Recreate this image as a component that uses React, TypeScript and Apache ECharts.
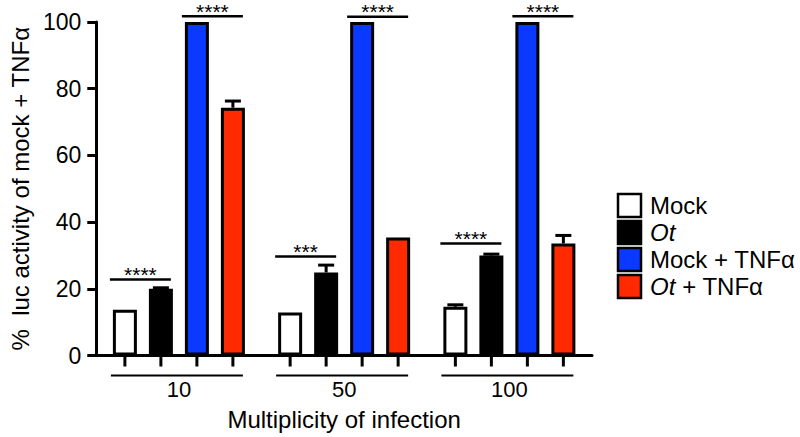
import React, { useEffect, useRef } from "react";
import * as echarts from "echarts";

const categories = ["10", "50", "100"];
const seriesNames = ["Mock", "Ot", "Mock + TNFα", "Ot + TNFα"];
const mockValues = [13.7, 12.9, 14.6];
const otValues = [20.0, 24.9, 30.0];
const mockTnfValues = [100, 100, 100];
const otTnfValues = [74.3, 35.4, 33.6];
const mockErr = [0, 0, 0.6];
const otErr = [0.3, 2.2, 0.4];
const mockTnfErr = [0, 0, 0];
const otTnfErr = [2.0, 0, 2.4];

const yTicks = [0, 20, 40, 60, 80, 100];

// significance brackets: group index, first bar of the pair, bracket height (y units), stars
const sigGroup = [0, 0, 1, 1, 2, 2];
const sigFirstBar = [0, 2, 0, 2, 0, 2];
const sigLevel = [22.8, 101.7, 29.7, 101.6, 33.6, 101.7];
const sigStars = ["****", "****", "***", "****", "****", "****"];

const FONT = "'Liberation Sans', Arial, Helvetica, sans-serif";
const BAR_STEP = 36; // distance between bar centers in a group (px)
const COLORS = ["#ffffff", "#000000", "#0A3AFF", "#FF2A00"];

export default function App() {
  const ref = useRef<HTMLDivElement>(null);
  useEffect(() => {
    if (!ref.current) return;
    const chart = echarts.init(ref.current, null, { renderer: "svg" });
    const values = [mockValues, otValues, mockTnfValues, otTnfValues];
    const errs = [mockErr, otErr, mockTnfErr, otTnfErr];

    const barSeries = seriesNames.map((name, s) => ({
      name,
      type: "bar",
      data: values[s],
      barWidth: 24,
      barGap: "50%",
      itemStyle: { color: COLORS[s], borderColor: "#000", borderWidth: 3 },
      z: 2,
    }));

    const errData: number[][] = [];
    values.forEach((arr, s) =>
      arr.forEach((v, c) => {
        if (errs[s][c] > 0) errData.push([c, v, errs[s][c], s]);
      })
    );

    const errSeries = {
      type: "custom",
      name: "err",
      silent: true,
      z: 3,
      encode: { x: 0, y: 1 },
      data: errData,
      renderItem: (params: any, api: any) => {
        const c = api.value(0);
        const v = api.value(1);
        const e = api.value(2);
        const b = api.value(3);
        const base = api.coord([c, v]);
        const top = api.coord([c, v + e]);
        const x = base[0] + (b - 1.5) * BAR_STEP;
        return {
          type: "group",
          children: [
            { type: "line", shape: { x1: x, y1: base[1], x2: x, y2: top[1] }, style: { stroke: "#000", lineWidth: 3 } },
            { type: "line", shape: { x1: x - 8, y1: top[1], x2: x + 8, y2: top[1] }, style: { stroke: "#000", lineWidth: 3 } },
          ],
        };
      },
    };

    const sigSeries = {
      type: "custom",
      name: "sig",
      silent: true,
      z: 3,
      encode: { x: 0, y: 1 },
      data: sigGroup.map((g, i) => [g, sigLevel[i], sigFirstBar[i]]),
      renderItem: (params: any, api: any) => {
        const i = params.dataIndex;
        const p = api.coord([api.value(0), api.value(1)]);
        const b = api.value(2);
        const x1 = p[0] + (b - 1.5) * BAR_STEP - 15;
        const x2 = p[0] + (b + 1 - 1.5) * BAR_STEP + 10;
        return {
          type: "group",
          children: [
            { type: "line", shape: { x1, y1: p[1], x2, y2: p[1] }, style: { stroke: "#000", lineWidth: 2.5 } },
            {
              type: "text",
              x: (x1 + x2) / 2,
              y: p[1] - 5,
              style: { text: sigStars[i], fill: "#000", font: `21px ${FONT}`, lineHeight: 12, align: "center", verticalAlign: "middle" },
            },
          ],
        };
      },
    };

    const axisDecorSeries = {
      type: "custom",
      name: "axisDecor",
      silent: true,
      z: 3,
      encode: { x: 0, y: 1 },
      data: categories.map((_, i) => [i, 0]),
      renderItem: (params: any, api: any) => {
        const p = api.coord([api.value(0), 0]);
        const children: any[] = [];
        for (let b = 0; b < 4; b++) {
          const x = p[0] + (b - 1.5) * BAR_STEP;
          children.push({ type: "line", shape: { x1: x, y1: p[1], x2: x, y2: p[1] + 11 }, style: { stroke: "#000", lineWidth: 3 } });
        }
        children.push({
          type: "line",
          shape: { x1: p[0] - 1.5 * BAR_STEP - 14, y1: p[1] + 20, x2: p[0] + 1.5 * BAR_STEP + 10, y2: p[1] + 20 },
          style: { stroke: "#000", lineWidth: 2 },
        });
        return { type: "group", children };
      },
    };

    // hand-built legend (italic "Ot")
    const LEG_X = 618;
    const LEG_Y = 194;
    const LEG_ROW = 27;
    const LEG_BOX = 23;
    const TEXT_X = 650;
    const OT_WIDTH = 25.5;
    const legendEls: any[] = [];
    seriesNames.forEach((name, i) => {
      const y = LEG_Y + i * LEG_ROW;
      const ty = y - 1;
      legendEls.push({
        type: "rect",
        shape: { x: LEG_X, y, width: LEG_BOX, height: LEG_BOX },
        style: { fill: COLORS[i], stroke: "#000", lineWidth: 2.5 },
      });
      if (name.startsWith("Ot")) {
        legendEls.push({
          type: "text",
          x: TEXT_X,
          y: ty,
          style: { text: "Ot", font: `italic 24px ${FONT}`, fill: "#000" },
        });
        const rest = name.slice(2);
        if (rest) {
          legendEls.push({
            type: "text",
            x: TEXT_X + OT_WIDTH,
            y: ty,
            style: { text: rest, font: `24px ${FONT}`, fill: "#000" },
          });
        }
      } else {
        legendEls.push({
          type: "text",
          x: TEXT_X,
          y: ty,
          style: { text: name, font: `24px ${FONT}`, fill: "#000" },
        });
      }
    });

    chart.setOption({
      animation: false,
      backgroundColor: "#fff",
      grid: { left: 90, right: 208, top: 22, bottom: 81.5, containLabel: false },
      graphic: legendEls,
      xAxis: {
        type: "category",
        data: categories,
        name: "Multiplicity of infection",
        nameLocation: "middle",
        nameGap: 52,
        nameTextStyle: { fontSize: 24, color: "#000", fontFamily: FONT },
        axisLine: { show: true, lineStyle: { color: "#000", width: 3 } },
        axisTick: { show: false },
        axisLabel: { fontSize: 22, color: "#000", margin: 23, fontFamily: FONT },
        splitLine: { show: false },
      },
      yAxis: {
        type: "value",
        min: yTicks[0],
        max: yTicks[yTicks.length - 1],
        interval: yTicks[1] - yTicks[0],
        name: "%  luc activity of mock + TNFα",
        nameLocation: "middle",
        nameGap: 62,
        nameTextStyle: { fontSize: 24, color: "#000", fontFamily: FONT },
        axisLine: { show: true, lineStyle: { color: "#000", width: 3 } },
        axisTick: { show: true, length: 9, lineStyle: { color: "#000", width: 3 } },
        axisLabel: { fontSize: 23, color: "#000", margin: 15, fontFamily: FONT },
        splitLine: { show: false },
      },
      series: [...barSeries, errSeries, sigSeries, axisDecorSeries],
    });
    return () => chart.dispose();
  }, []);
  return <div ref={ref} style={{ position: "fixed", left: 0, top: 0, width: 800, height: 437 }} />;
}
